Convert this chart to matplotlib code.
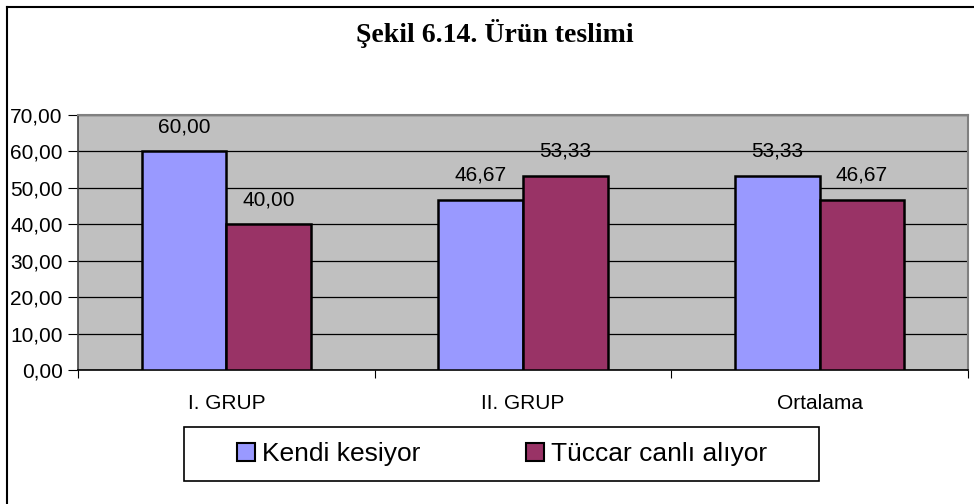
import matplotlib
matplotlib.use('Agg')
import matplotlib.pyplot as plt
import numpy as np
from matplotlib.patches import Patch, Rectangle

plt.rcParams['font.family'] = ['Liberation Sans', 'DejaVu Sans']

# 数据
categories = ['I. GRUP', 'II. GRUP', 'Ortalama']
series_names = ['Kendi kesiyor', 'Tüccar canlı alıyor']
kendi = [60.00, 46.67, 53.33]
tuccar = [40.00, 53.33, 46.67]
colors = ['#9999FF', '#993366']
yticks = [0, 10, 20, 30, 40, 50, 60, 70]

W, H = 974, 504
fig = plt.figure(figsize=(W / 100, H / 100), dpi=100)

# 绘图区位置（像素换算）
x0, x1, y_top, y_bot = 78, 968, 115, 370
ax = fig.add_axes([x0 / W, 1 - y_bot / H, (x1 - x0) / W, (y_bot - y_top) / H])
ax.set_facecolor('#C0C0C0')

centers = np.arange(len(categories)) + 0.5
bw = 0.285
b1 = ax.bar(centers - bw / 2, kendi, bw, color=colors[0], edgecolor='black', linewidth=1.8, zorder=3)
b2 = ax.bar(centers + bw / 2, tuccar, bw, color=colors[1], edgecolor='black', linewidth=1.8, zorder=3)

fmt = lambda v: f'{v:.2f}'.replace('.', ',')
ax.bar_label(b1, labels=[fmt(v) for v in kendi], padding=11, fontsize=15)
ax.bar_label(b2, labels=[fmt(v) for v in tuccar], padding=11, fontsize=15)

ax.set_xlim(0, 3)
ax.set_ylim(0, 70)
ax.set_yticks(yticks)
ax.set_yticklabels([fmt(v) for v in yticks], fontsize=15)
ax.yaxis.grid(True, color='black', linewidth=0.9, zorder=1)
ax.set_axisbelow(True)

# x轴：刻度在分界线，标签在中间
ax.set_xticks([0, 1, 2, 3])
ax.set_xticklabels([])
ax.set_xticks(centers, minor=True)
ax.set_xticklabels(categories, minor=True, fontsize=15)
ax.tick_params(axis='x', which='minor', length=0, pad=17)
ax.tick_params(axis='x', which='major', length=6, direction='out', color='black')
ax.tick_params(axis='y', length=7, direction='out', color='black', pad=4)

for s in ['top', 'right']:
    ax.spines[s].set_color('#808080')
    ax.spines[s].set_linewidth(1.5)
ax.spines['left'].set_color('#404040')
ax.spines['bottom'].set_color('black')
ax.spines['left'].set_linewidth(1.2)
ax.spines['bottom'].set_linewidth(1.2)

# 标题
fig.text(495 / W, 1 - 33 / H, 'Şekil 6.14. Ürün teslimi', family='Liberation Serif',
         fontweight='bold', fontsize=20, ha='center', va='center')

# 图例框单独画，图例本身不带框
fig.add_artist(Rectangle((184 / W, 1 - 481 / H), (819 - 184) / W, (481 - 427) / H,
                         transform=fig.transFigure, facecolor='white', edgecolor='black',
                         linewidth=1.2))
handles = [Patch(facecolor=c, edgecolor='black', linewidth=1.5) for c in colors]
leg = fig.legend(handles, series_names, loc='center', bbox_to_anchor=(502 / W, 1 - 454 / H),
                 ncol=2, fontsize=19, frameon=False, borderpad=0,
                 handlelength=0.7, handleheight=0.7, handletextpad=0.25,
                 columnspacing=4.0, borderaxespad=0)

# 外框（只看得到上边和左边）
fig.add_artist(plt.Line2D([7 / W, 1], [1 - 7 / H, 1 - 7 / H], color='black', linewidth=1.5))
fig.add_artist(plt.Line2D([7 / W, 7 / W], [0, 1 - 7 / H], color='black', linewidth=1.5))

fig.savefig('out.png', dpi=100)
